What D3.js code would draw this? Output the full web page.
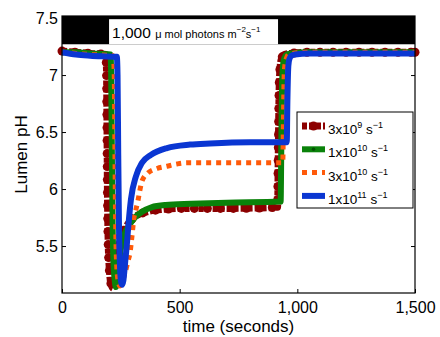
<!DOCTYPE html>
<html>
<head>
<meta charset="utf-8">
<script src="https://cdn.jsdelivr.net/npm/d3@7"></script>
<style>
  body { margin: 0; background: #fff; }
  svg { display: block; }
  text { font-family: "Liberation Sans", Arial, Helvetica, sans-serif; fill: #000; }
</style>
</head>
<body>
<svg id="chart" width="440" height="337"></svg>
<script>
// Axis ticks
const xTicks = [0, 500, 1000, 1500];
const yTicks = [5.5, 6, 6.5, 7, 7.5];

// Light period (seconds) and the band at the top that marks it
const lightPeriod = [200, 918];
const bandBottom = 7.27;
const labelTop = 7.49;

// k = 3x10^9 s^-1
const t3e9 = [0, 60, 120, 186, 189, 191, 193, 196, 201, 208, 217, 224, 231, 240, 252, 268, 290, 320, 360, 420, 520, 700, 916, 919, 922, 926, 932, 945, 970, 1050, 1250, 1500];
const ph3e9 = [7.21, 7.20, 7.19, 7.18, 7.05, 6.6, 6.0, 5.55, 5.3, 5.17, 5.13, 5.17, 5.3, 5.45, 5.56, 5.65, 5.72, 5.77, 5.80, 5.82, 5.83, 5.83, 5.84, 6.3, 6.8, 7.05, 7.14, 7.18, 7.19, 7.20, 7.20, 7.20];

// k = 1x10^10 s^-1
const t1e10 = [0, 60, 120, 206, 209, 212, 215, 219, 224, 229, 235, 242, 252, 265, 285, 310, 340, 380, 440, 550, 700, 929, 932, 935, 939, 945, 955, 975, 1050, 1250, 1500];
const ph1e10 = [7.20, 7.20, 7.19, 7.18, 7.0, 6.3, 5.7, 5.35, 5.2, 5.14, 5.2, 5.35, 5.5, 5.6, 5.68, 5.75, 5.80, 5.84, 5.86, 5.87, 5.88, 5.89, 6.4, 6.9, 7.08, 7.15, 7.18, 7.19, 7.20, 7.20, 7.20];

// k = 3x10^10 s^-1
const t3e10 = [0, 60, 120, 218, 222, 225, 228, 232, 238, 246, 258, 270, 282, 289, 297, 306, 314, 323, 331, 340, 365, 404, 446, 489, 531, 600, 750, 938, 941, 944, 948, 954, 962, 980, 1050, 1250, 1500];
const ph3e10 = [7.20, 7.19, 7.18, 7.17, 7.0, 6.3, 5.7, 5.35, 5.2, 5.15, 5.2, 5.28, 5.38, 5.44, 5.58, 5.75, 5.82, 5.90, 5.99, 6.07, 6.14, 6.18, 6.20, 6.22, 6.23, 6.23, 6.23, 6.23, 6.6, 7.0, 7.1, 7.15, 7.18, 7.19, 7.20, 7.20, 7.20];

// k = 1x10^11 s^-1
const t1e11 = [0, 60, 120, 233, 236, 239, 242, 246, 250, 255, 261, 268, 275, 280, 293, 314, 340, 378, 446, 544, 629, 800, 955, 958, 961, 964, 968, 975, 990, 1050, 1250, 1500];
const ph1e11 = [7.20, 7.18, 7.17, 7.16, 7.0, 6.3, 5.7, 5.35, 5.2, 5.16, 5.2, 5.35, 5.5, 5.63, 5.91, 6.11, 6.23, 6.30, 6.36, 6.39, 6.40, 6.41, 6.41, 6.8, 7.05, 7.12, 7.15, 7.17, 7.18, 7.19, 7.19, 7.19];

const seriesNames = ['3x10|9', '1x10|10', '3x10|10', '1x10|11'];
const seriesColors = ['#8c0000', '#0a820a', '#ff5a0a', '#0a36d2'];

const series = [
    { t: t3e9, ph: ph3e9, width: 7, dash: '5,2', markers: true },
    { t: t1e10, ph: ph1e10, width: 6, dash: null, markers: false },
    { t: t3e10, ph: ph3e10, width: 5, dash: '5,5', markers: false },
    { t: t1e11, ph: ph1e11, width: 6, dash: null, markers: false }
].map((s, i) => ({
    ...s,
    name: seriesNames[i],
    color: seriesColors[i],
    points: s.t.map((t, j) => [t, s.ph[j]])
}));

const svg = d3.select('#chart');
const margin = { top: 16, right: 25, bottom: 44, left: 62 };
const width = 440 - margin.left - margin.right;
const height = 337 - margin.top - margin.bottom;
const font = '"Liberation Sans", Arial, Helvetica, sans-serif';

const g = svg.append('g')
    .attr('transform', `translate(${margin.left},${margin.top})`);

const x = d3.scaleLinear().domain([0, 1500]).range([0, width]);
const y = d3.scaleLinear().domain([5.088, 7.518]).range([height, 0]);

// Dark band with the light-on label
g.append('rect')
    .attr('x', x(0))
    .attr('y', 0)
    .attr('width', x(1500) - x(0))
    .attr('height', y(bandBottom))
    .attr('fill', '#000');

g.append('rect')
    .attr('x', x(lightPeriod[0]))
    .attr('y', y(labelTop))
    .attr('width', x(lightPeriod[1]) - x(lightPeriod[0]))
    .attr('height', y(bandBottom) - y(labelTop))
    .attr('fill', '#fff');

const label = g.append('text')
    .attr('x', x(lightPeriod[0]) + 3)
    .attr('y', y(bandBottom) - 6.5)
    .style('font-size', '15.5px');
label.append('tspan').text('1,000 ');
label.append('tspan').style('font-size', '11px').text('\u03bc mol photons m');
label.append('tspan').style('font-size', '8px').attr('dy', -6).text('\u22122');
label.append('tspan').style('font-size', '11px').attr('dy', 6).text('s');
label.append('tspan').style('font-size', '8px').attr('dy', -6).text('\u22121');

// Lines
const line = d3.line()
    .x(d => x(d[0]))
    .y(d => y(d[1]))
    .curve(d3.curveMonotoneX);

series.forEach(s => {
    const path = g.append('path')
        .datum(s.points)
        .attr('d', line)
        .attr('fill', 'none')
        .attr('stroke', s.color)
        .attr('stroke-width', s.width)
        .attr('stroke-linejoin', 'round')
        .attr('stroke-dasharray', s.dash);

    if (s.markers) {
        const node = path.node();
        const total = node.getTotalLength();
        const spots = d3.range(0, total, 13).concat([total]).map(l => node.getPointAtLength(l));
        g.append('g').selectAll('circle')
            .data(spots)
            .enter()
            .append('circle')
            .attr('cx', p => p.x)
            .attr('cy', p => p.y)
            .attr('r', 4.5)
            .attr('fill', s.color);
    }
});

// Axes box
g.append('rect')
    .attr('width', width)
    .attr('height', height)
    .attr('fill', 'none')
    .attr('stroke', '#000')
    .attr('stroke-width', 1.2);

const xAxis = g.append('g')
    .attr('transform', `translate(0,${height})`)
    .call(d3.axisBottom(x).tickValues(xTicks).tickFormat(d3.format(',')).tickSize(-4).tickPadding(9));

const yAxis = g.append('g')
    .call(d3.axisLeft(y).tickValues(yTicks).tickFormat(d3.format('')).tickSize(-4).tickPadding(4));

const yAxisRight = g.append('g')
    .attr('transform', `translate(${width},0)`)
    .call(d3.axisRight(y).tickValues(yTicks).tickFormat('').tickSize(-4));

[xAxis, yAxis, yAxisRight].forEach(a => {
    a.select('.domain').remove();
    a.attr('font-family', font).attr('font-size', 16);
    a.selectAll('text').style('fill', '#000');
});

// Axis labels
g.append('text')
    .attr('x', width / 2)
    .attr('y', height + 39)
    .style('text-anchor', 'middle')
    .style('font-size', '17px')
    .text('time (seconds)');

g.append('text')
    .attr('transform', 'rotate(-90)')
    .attr('x', -height / 2)
    .attr('y', -35)
    .style('text-anchor', 'middle')
    .style('font-size', '17px')
    .text('Lumen pH');

// Legend
const legend = g.append('g')
    .attr('transform', `translate(${297 - margin.left},${112 - margin.top})`);

legend.append('rect')
    .attr('width', 116)
    .attr('height', 96)
    .attr('fill', '#fff')
    .attr('stroke', '#000')
    .attr('stroke-width', 1);

series.forEach((s, i) => {
    const row = legend.append('g').attr('transform', `translate(0,${14 + i * 23.3})`);
    row.append('line')
        .attr('x1', 5).attr('x2', 28)
        .attr('y1', 0).attr('y2', 0)
        .attr('stroke', s.color)
        .attr('stroke-width', s.width)
        .attr('stroke-dasharray', s.dash);
    if (s.markers) {
        row.append('circle').attr('cx', 16.5).attr('cy', 0).attr('r', 4.5).attr('fill', s.color);
    }
    if (i === 1) {
        row.append('circle').attr('cx', 16.5).attr('cy', 0).attr('r', 1.8).attr('fill', '#055005');
    }
    const parts = s.name.split('|');
    const txt = row.append('text')
        .attr('x', 31)
        .attr('y', 8)
        .style('font-size', '13.5px');
    txt.append('tspan').text(parts[0]);
    txt.append('tspan').style('font-size', '9px').attr('dy', -6).text(parts[1]);
    txt.append('tspan').attr('dy', 6).text(' s');
    txt.append('tspan').style('font-size', '9px').attr('dy', -6).text('\u22121');
});
</script>
</body>
</html>
